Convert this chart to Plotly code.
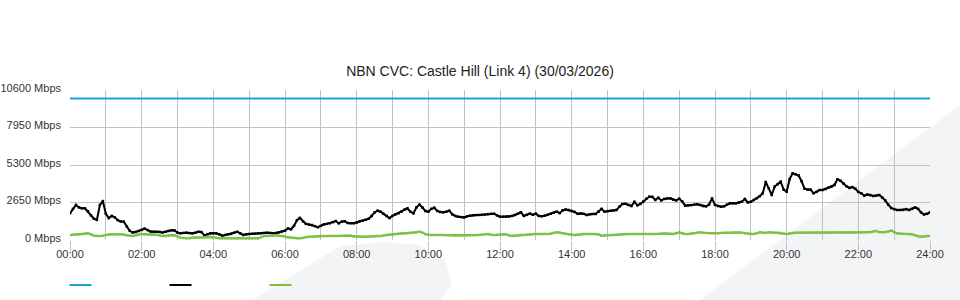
import plotly.graph_objects as go

# ---------------- data (5-minute samples, Mbps) ----------------
INTERVAL_MIN = 5

capacity_times = [0, 24]
capacity_mbps = [10000, 10000]

download_mbps = [
    1885, 2200, 2480, 2300, 2240, 2240, 2030, 1750, 1500, 1420, 2470, 2750, 1850, 1550, 1700, 1600,
    1400, 1310, 1300, 950, 650, 530, 560, 640, 720, 800, 700, 600, 590, 590, 570, 530, 580, 640,
    690, 680, 520, 470, 500, 520, 490, 470, 520, 580, 560, 330, 400, 470, 470, 470, 400, 310, 360,
    400, 430, 520, 580, 480, 353, 400, 424, 440, 450, 470, 480, 500, 518, 500, 471, 500, 540,
    600, 660, 820, 760, 1000, 1400, 1560, 1320, 1140, 1090, 1060, 980, 900, 1000, 1100, 1140, 1180,
    1260, 1340, 1180, 1300, 1330, 1200, 1180, 1180, 1240, 1330, 1370, 1430, 1500, 1700, 1950, 2070,
    2000, 1850, 1700, 1550, 1700, 1814, 1885, 2000, 2150, 2240, 2000, 1885, 2300, 2500, 2300, 2050,
    2000, 2200, 2280, 2050, 1980, 1955, 2000, 2070, 1820, 1700, 1650, 1620, 1600, 1680, 1720, 1750,
    1760, 1767,
    1780, 1800, 1830, 1850, 1860, 1740, 1650, 1649, 1649, 1649, 1700, 1767, 1850, 1955, 1700, 1780,
    1870, 1780, 1860, 1700, 1680, 1720, 1780, 1860, 1930, 2002, 1900, 2100, 2160, 2120, 2050, 1980,
    1850, 1880, 1850, 1767, 1820, 1840, 1838, 2000, 2200, 2000, 2040, 2070, 2090, 2120, 2356, 2550,
    2560, 2473, 2400, 2700, 2450, 2550, 2709, 2920, 3060, 3050, 2830, 2990, 2800, 2900, 2944, 2944,
    2860, 2800, 2920, 2730, 2430, 2440, 2460, 2500, 2530,
    2473, 2400, 2380, 2500, 2940, 2473, 2400, 2350, 2380, 2500, 2591, 2591, 2591, 2650, 2709, 2897,
    2650, 2700, 2827, 2950, 3100, 3300, 4100, 3650, 3180, 3780, 3950, 4122, 3560, 3416, 4300, 4711,
    4640, 4560, 4150, 3620, 3560, 3560, 3300, 3400, 3533, 3533, 3600, 3700, 3780, 3887, 4290, 4193,
    4000, 3800, 3680, 3740, 3620, 3400, 3300, 3130, 3220, 3180, 3109, 3140, 3180, 3000, 2800, 2500,
    2260, 2180, 2120, 2120, 2130, 2180, 2120, 2200, 2300, 2200, 1950, 1800, 1850, 1955,
]

upload_mbps = [
    353, 380, 400, 400, 420, 440, 470, 400, 306, 290, 283, 300, 350, 400, 400, 400, 400, 400, 380,
    340, 300, 283, 330, 380, 424, 410, 400, 400, 400, 380, 330, 283, 290, 330, 353, 330, 260, 165,
    140, 118, 130, 165, 170, 180, 189, 200, 220, 236, 200, 150, 118, 118, 118, 118, 118, 118, 118,
    118, 118, 118, 118, 118, 130, 118, 200, 283, 283, 300, 320, 340, 300,
    283, 250, 190, 165, 140, 118, 118, 150, 200, 236, 230, 250, 270, 283, 283, 283, 283, 290, 283,
    283, 300, 300, 306, 300, 260, 236, 236, 236, 236, 236, 250, 270, 283, 283, 320, 353, 380, 400,
    424, 440, 460, 471, 480, 500, 518, 550, 589, 520, 400, 380, 353, 353, 353, 353, 353, 340, 330,
    320, 306, 306, 306, 306, 320, 330, 340, 353, 353, 380, 400, 420,
    370, 353, 360, 380, 400, 400, 330, 283, 306, 330, 353, 353, 370, 390, 410, 424, 424, 424, 424,
    424, 450, 500, 542, 520, 480, 440, 400, 370, 353, 370, 400, 424, 424, 424, 424, 424, 400, 306,
    330, 353, 353, 353, 370, 390, 410, 424, 424, 424, 424, 424, 424, 424, 424, 424, 424, 424, 440,
    460, 471, 471, 450, 424, 480, 540, 480, 424, 424, 450, 471, 510, 540,
    510, 500, 480, 471, 471, 480, 500, 510, 518, 518, 530, 540, 542, 520, 480, 450, 430, 424, 480,
    540, 520, 500, 542, 530, 518, 518, 500, 450, 424, 470, 500, 518, 518, 518, 518, 518, 518, 518,
    530, 518, 518, 518, 518, 518, 518, 530, 518, 518, 518, 518, 518, 518, 530, 530, 540, 542, 560,
    600, 636, 560, 542, 560, 600, 659, 560, 471, 450, 440, 430, 424, 400, 330, 260, 236, 250, 283, 283,
]

y_tick_values = [0, 2650, 5300, 7950, 10600]
y_tick_labels = ["0 Mbps", "2650 Mbps", "5300 Mbps", "7950 Mbps", "10600 Mbps"]
x_tick_values = list(range(0, 25, 2))
x_tick_labels = ["00:00", "02:00", "04:00", "06:00", "08:00", "10:00", "12:00",
                 "14:00", "16:00", "18:00", "20:00", "22:00", "24:00"]

title_text = "NBN CVC: Castle Hill (Link 4) (30/03/2026)"

BLUE = "#1ba1e2"
BLACK = "#000000"
GREEN = "#7cc142"
GRID = "#c2c2c2"
WATERMARK = "#f3f4f6"

hours_dl = [i * INTERVAL_MIN / 60 for i in range(len(download_mbps))]
hours_ul = [i * INTERVAL_MIN / 60 for i in range(len(upload_mbps))]

# ---------------- layout geometry (pixels) ----------------
W, H = 960, 300
ML, MR, MT, MB = 70, 30, 90, 60
PW, PH = W - ML - MR, H - MT - MB


def px(x, y):
    """pixel -> paper coordinates"""
    return (x - ML) / PW, (H - MB - y) / PH


def path(points):
    pts = [px(x, y) for x, y in points]
    return "M " + " L ".join(f"{a:.5f},{b:.5f}" for a, b in pts) + " Z"


fig = go.Figure()

fig.add_trace(go.Scatter(x=capacity_times, y=capacity_mbps, mode="lines",
                         line=dict(color=BLUE, width=2), showlegend=False, hoverinfo="skip"))
fig.add_trace(go.Scatter(x=hours_dl, y=download_mbps, mode="lines+markers",
                         line=dict(color=BLACK, width=2),
                         marker=dict(color=BLACK, size=2.5, symbol="square"),
                         showlegend=False, hoverinfo="skip"))
fig.add_trace(go.Scatter(x=hours_ul, y=upload_mbps, mode="lines+markers",
                         line=dict(color=GREEN, width=2),
                         marker=dict(color=GREEN, size=2.5, symbol="square"),
                         showlegend=False, hoverinfo="skip"))

shapes = []
# background watermark (light diagonal shapes)
shapes.append(dict(type="path", xref="paper", yref="paper", layer="below",
                   path=path([(700, 300), (960, 105), (960, 300)]),
                   fillcolor=WATERMARK, line=dict(width=0)))
shapes.append(dict(type="path", xref="paper", yref="paper", layer="below",
                   path=path([(253, 300), (317, 260), (340, 246), (380, 242), (420, 245),
                              (445, 260), (452, 285), (440, 300)]),
                   fillcolor=WATERMARK, line=dict(width=0)))
# legend line samples (no text)
for (x0, x1), col in [((69.5, 91.5), BLUE), ((169.5, 191.5), BLACK), ((269.5, 291.5), GREEN)]:
    a0, b0 = px(x0, 285)
    a1, _ = px(x1, 285)
    shapes.append(dict(type="line", xref="paper", yref="paper", x0=a0, x1=a1, y0=b0, y1=b0,
                       line=dict(color=col, width=2)))

fig.update_layout(
    width=W, height=H,
    margin=dict(l=ML, r=MR, t=MT, b=MB, pad=0, autoexpand=False),
    paper_bgcolor="white",
    plot_bgcolor="rgba(0,0,0,0)",
    font=dict(family="Liberation Sans, Arial, sans-serif", size=11, color="#333333"),
    title=dict(text=title_text, x=0.5, xanchor="center", xref="container",
               y=1 - 71 / H, yref="container", yanchor="middle",
               font=dict(size=14, color="#222222")),
    showlegend=False,
    shapes=shapes,
    xaxis=dict(range=[0, 24], tickmode="array", tickvals=x_tick_values, ticktext=x_tick_labels,
               showgrid=True, gridcolor=GRID, gridwidth=1, zeroline=False, showline=False,
               ticks="outside", ticklen=10, tickcolor=GRID, tickwidth=1, automargin=False,
               ticklabelstandoff=-6,
               minor=dict(tickmode="linear", tick0=0, dtick=1, showgrid=True,
                          gridcolor=GRID, gridwidth=1, ticks=""),
               fixedrange=True),
    yaxis=dict(range=[0, 10600], tickmode="array", tickvals=y_tick_values, ticktext=y_tick_labels,
               showgrid=True, gridcolor=GRID, gridwidth=1, zeroline=False, showline=False,
               ticks="", ticklabelstandoff=8, ticklabelshift=-2, automargin=False,
               fixedrange=True),
)

fig.write_html("out.html")
